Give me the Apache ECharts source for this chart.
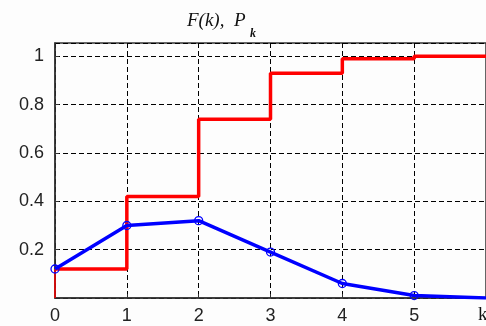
<!DOCTYPE html>
<html>
<head>
<meta charset="utf-8">
<script src="https://cdn.jsdelivr.net/npm/echarts@6/dist/echarts.min.js"></script>
<style>
  html, body { margin: 0; padding: 0; background: #fdfdfd; }
  #chart { width: 486px; height: 326px; }
</style>
</head>
<body>
<div id="chart"></div>
<script>
// values
const kValues = [0, 1, 2, 3, 4, 5, 6]
const probP = [0.12, 0.30, 0.32, 0.19, 0.06, 0.01, 0.00]
const cdfF = [0.12, 0.42, 0.74, 0.93, 0.99, 1.0, 1.0]
const yTicks = [0.2, 0.4, 0.6, 0.8, 1]

const chart = echarts.init(document.getElementById("chart"))

const stepData = kValues.map((k, i) => [k, cdfF[i]])
const probData = kValues.map((k, i) => [k, probP[i]])

const labelFont = "'Liberation Sans', Arial, sans-serif"

const option = {
  animation: false,
  backgroundColor: "#fdfdfd",
  grid: {
    left: 55,
    top: 43,
    right: -1,
    bottom: 28,
    show: true,
    borderColor: "#333",
    borderWidth: 1.5,
  },
  graphic: [
    {
      type: "text",
      left: 187,
      top: 11,
      style: {
        text: "F(k),  P",
        font: "italic 19px 'Liberation Serif', 'DejaVu Serif', serif",
        fill: "#111",
      },
    },
    {
      type: "text",
      left: 250,
      top: 28,
      style: {
        text: "k",
        font: "italic bold 12px 'Liberation Serif', serif",
        fill: "#111",
      },
    },
    {
      type: "text",
      left: 478,
      top: 306,
      style: {
        text: "k",
        font: "19px 'Liberation Serif', serif",
        fill: "#111",
      },
    },
  ],
  xAxis: {
    type: "value",
    min: 0,
    max: 6,
    interval: 1,
    axisLine: { show: true, lineStyle: { color: "#333", width: 1.5 } },
    axisTick: { show: true, inside: true, length: 4, lineStyle: { color: "#333" } },
    axisLabel: {
      show: true,
      margin: 9,
      color: "#222",
      fontSize: 18,
      fontFamily: labelFont,
      showMaxLabel: false,
    },
    splitLine: {
      show: true,
      lineStyle: { color: "#000", type: [5, 3], width: 1 },
    },
  },
  yAxis: {
    type: "value",
    min: 0,
    max: 1.055,
    interval: 0.2,
    axisLine: { show: true, lineStyle: { color: "#333", width: 1.5 } },
    axisTick: { show: true, inside: true, length: 4, lineStyle: { color: "#333" } },
    axisLabel: {
      margin: 11,
      color: "#222",
      fontSize: 18,
      fontFamily: labelFont,
      showMinLabel: false,
      showMaxLabel: false,
      formatter: function (v) {
        const hit = yTicks.find(t => Math.abs(t - v) < 1e-6)
        return hit === undefined ? "" : String(hit)
      },
    },
    splitLine: {
      show: true,
      lineStyle: { color: "#000", type: [5, 3], width: 1 },
    },
  },
  series: [
    {
      // thin rise at k = 0
      type: "line",
      data: [[0, 0], [0, cdfF[0]]],
      showSymbol: false,
      lineStyle: { color: "#ff0000", width: 1.5 },
    },
    {
      type: "line",
      step: "end",
      data: stepData,
      showSymbol: false,
      lineStyle: { color: "#ff0000", width: 3.5 },
    },
    {
      type: "line",
      data: probData,
      symbol: function (value) {
        return value[0] === 6 ? "none" : "circle"
      },
      symbolSize: 8,
      showSymbol: true,
      itemStyle: { color: "transparent", borderColor: "#0000ff", borderWidth: 1.3 },
      lineStyle: { color: "#0000ff", width: 3.5 },
    },
  ],
}

chart.setOption(option)
</script>
</body>
</html>
